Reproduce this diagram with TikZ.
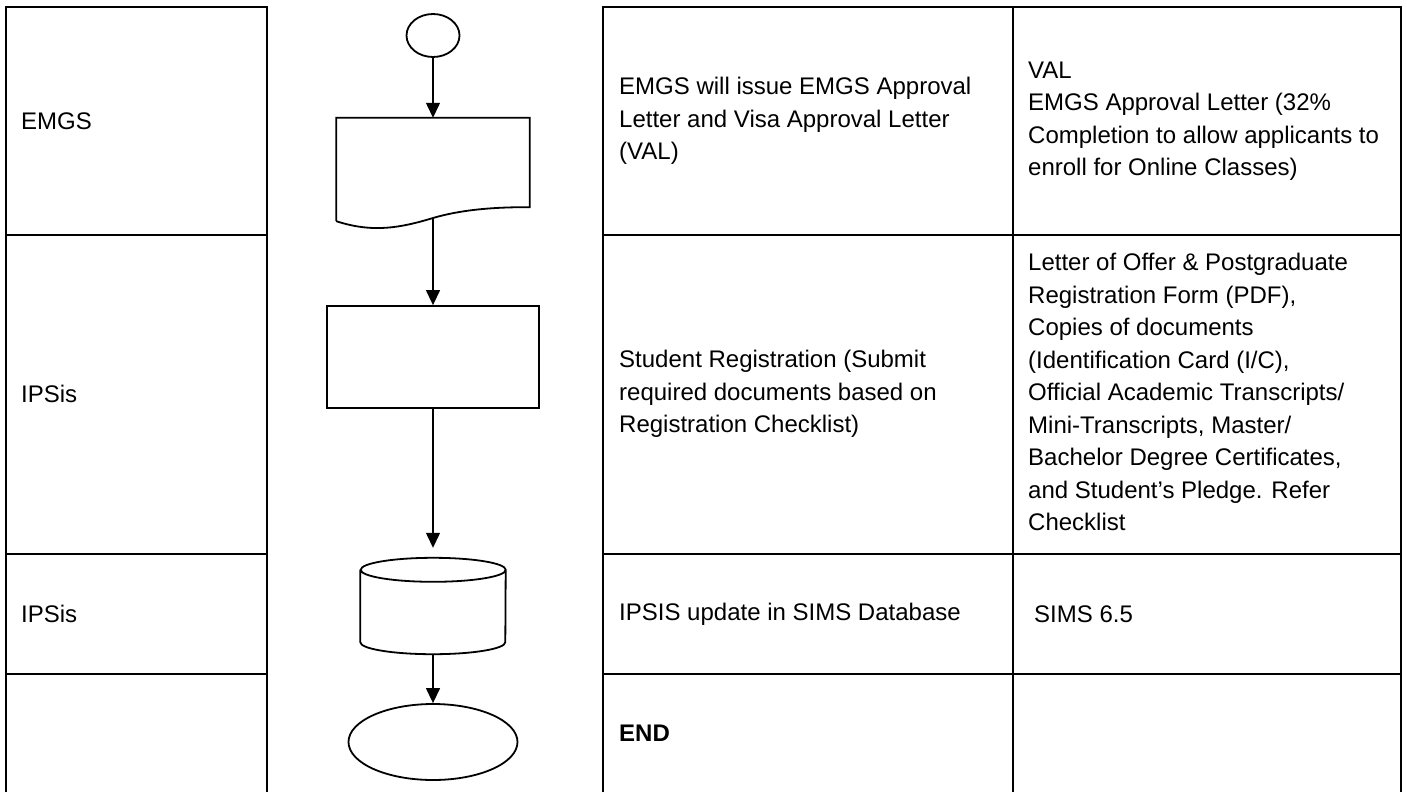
\documentclass[tikz,border=0pt]{standalone}
\usepackage{fontspec}
\setmainfont{Liberation Sans}
\usepackage{tikz}
\usetikzlibrary{arrows.meta,shapes.geometric,positioning}
\tikzstyle{arrow} = [line width=1.3pt,-{Triangle[length=15pt,width=14pt]}]
\tikzstyle{grid} = [line width=2.2pt]
\tikzstyle{flow} = [line width=1.8pt]
\tikzstyle{terminal} = [ellipse, draw, flow, inner sep=0pt]
\tikzstyle{process} = [rectangle, draw, flow, minimum width=212pt, minimum height=102pt]
\tikzstyle{celltext} = [anchor=west, align=left, inner sep=0pt, font=\fontsize{24}{32.5}\selectfont]

\begin{document}
\begin{tikzpicture}[x=1pt, y=1pt, node distance=127pt]
\useasboundingbox (0,0) rectangle (1407,-792);
% Table frames
\draw[grid] (6,-792) -- (6,-7) -- (267,-7) -- (267,-792);
\draw[grid] (603,-792) -- (603,-7) -- (1401,-7) -- (1401,-792);
\draw[grid] (1013,-7) -- (1013,-792);
\foreach \y in {235,554,674} {
  \draw[grid] (6,-\y) -- (267,-\y);
  \draw[grid] (603,-\y) -- (1401,-\y);
}

% Flowchart
\node (start) [terminal, minimum width=53pt, minimum height=43pt] at (433,-35.5) {};
\node (doc) [minimum width=193pt, minimum height=89pt, inner sep=0pt, below of=start] {};
\node (proc) [process, below of=doc, node distance=194.5pt] {};
\node (db) [minimum width=145pt, minimum height=96pt, inner sep=0pt, below of=proc, node distance=249pt] {};
\node (stop) [terminal, minimum width=169pt, minimum height=76pt, below of=db, node distance=136pt] {};

\draw[flow] ([yshift=-14pt]doc.south west) -- (doc.north west) -- (doc.north east) -- (doc.south east)
  .. controls (492.5,-207) and (460,-210) .. (433,-218) coordinate (docbot)
  .. controls (400,-228) and (372.5,-233) .. ([yshift=-14pt]doc.south west);
\draw[flow] ([yshift=-12pt]db.north west) -- ([yshift=12pt]db.south west)
  arc[start angle=180, end angle=360, x radius=72.5pt, y radius=12pt]
  -- ([yshift=-12pt]db.north east)
  arc[start angle=0, end angle=180, x radius=72.5pt, y radius=12pt]
  arc[start angle=180, end angle=360, x radius=72.5pt, y radius=12pt];

\draw[arrow] (start) -- (doc);
\draw[arrow] (docbot) -- (proc);
\draw[arrow, shorten >=10pt] (proc) -- (db);
\draw[arrow] (db) -- (stop);

% Texts
\node (lane1) [celltext] at (21,-121) {EMGS};
\node (lane2) [celltext] at (21,-394) {IPSis};
\node (lane3) [celltext] at (21,-614) {IPSis};
\node (step1) [celltext] at (619,-121) {EMGS will issue EMGS Approval\\Letter and Visa Approval Letter\\(VAL)};
\node (out1) [celltext] at (1028,-121) {VAL\\EMGS Approval Letter (32\%\\Completion to allow applicants to\\enroll for Online Classes)};
\node (step2) [celltext] at (619,-394) {Student Registration (Submit\\required documents based on\\Registration Checklist)};
\node (out2) [celltext] at (1028,-392) {Letter of Offer \& Postgraduate\\Registration Form (PDF),\\Copies of documents\\(Identification Card (I/C),\\Official Academic Transcripts/\\Mini-Transcripts, Master/\\Bachelor Degree Certificates,\\and Student’s Pledge. Refer\\Checklist};
\node (step3) [celltext] at (619,-614) {IPSIS update in SIMS Database};
\node (out3) [celltext] at (1034,-614) {SIMS 6.5};
\node (step4) [celltext, font=\fontsize{24}{32.5}\selectfont\bfseries] at (619,-733) {END};
\end{tikzpicture}
\end{document}
